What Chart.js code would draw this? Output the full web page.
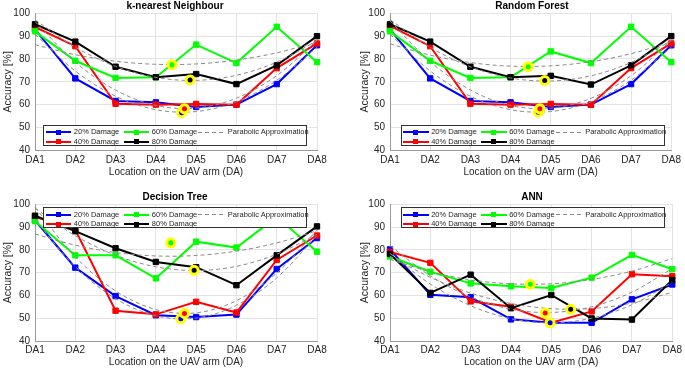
<!DOCTYPE html>
<html>
<head>
<meta charset="utf-8">
<script src="https://cdn.jsdelivr.net/npm/chart.js@4.4.1/dist/chart.umd.min.js"></script>
<style>
  html, body { margin: 0; padding: 0; background: #fff; }
  body { width: 685px; height: 372px; overflow: hidden; position: relative;
         font-family: "Liberation Sans", Arial, Helvetica, sans-serif; }
  .panel { position: absolute; }
  .title { position: absolute; font-weight: bold; font-size: 10px; color: #000;
           transform: translate(-50%, -50%); white-space: nowrap; line-height: 1; }
  .legend { position: absolute; border: 1px solid #333; background: #fff;
            box-sizing: border-box; width: 264px; height: 21px; }
  .lg-line { position: absolute; height: 2px; }
  .lg-mark { position: absolute; width: 5px; height: 5px; }
  .lg-dash { position: absolute; height: 1px;
             background: repeating-linear-gradient(to right, #8a8a8a 0 4px, transparent 4px 7px); }
  .lg-text { position: absolute; font-size: 7.5px; color: #262626; line-height: 1;
             transform: translateY(-50%); white-space: nowrap; }
</style>
</head>
<body>
<script>
// ---------------- data ----------------
const categories = ['DA1', 'DA2', 'DA3', 'DA4', 'DA5', 'DA6', 'DA7', 'DA8'];
const yTicks = [40, 50, 60, 70, 80, 90, 100];
const seriesLabels = ['20% Damage', '40% Damage', '60% Damage', '80% Damage'];
const fitLabel = 'Parabolic Approximation';
const seriesColors = ['#0000ff', '#ff0000', '#00ff00', '#000000'];

// k-nearest Neighbour
const knn20 = [93, 71.5, 61.6, 61, 59, 60, 69, 86];
const knn40 = [94, 85.6, 60.4, 60, 60.3, 60, 76, 86.8];
const knn60 = [92.1, 79.2, 71.7, 72, 86.3, 78.2, 94.1, 78.6];
const knn80 = [95.2, 87.6, 76.6, 72, 73.4, 69, 77.2, 90];
const knnMinX = [4.64, 4.71, 4.40, 4.85];
const knnMinY = [56.5, 58.2, 77.5, 70.8];

// Random Forest
const rf20 = [93, 71.5, 61.6, 61, 59, 60, 69, 86];
const rf40 = [94.5, 85.6, 60.4, 60, 60.3, 60, 76, 86.8];
const rf60 = [92.1, 79.2, 71.7, 72, 83.3, 78.2, 94.1, 78.6];
const rf80 = [95.2, 87.6, 76.6, 72, 72.6, 68.8, 77.2, 90];
const rfMinX = [4.69, 4.73, 4.44, 4.85];
const rfMinY = [56.7, 58.2, 76.6, 70.6];

// Decision Tree
const dt20 = [93, 72.2, 59.7, 51.3, 50.5, 51.6, 71.6, 85.2];
const dt40 = [94.5, 88.8, 53.3, 51.7, 57.2, 52.5, 75.6, 86.3];
const dt60 = [92.6, 77.6, 77.6, 67.5, 83.6, 81, 94.5, 79.2];
const dt80 = [95, 88.2, 80.7, 74.7, 72.4, 64.5, 77.6, 90.3];
const dtMinX = [4.62, 4.71, 4.37, 4.95];
const dtMinY = [49.8, 52.1, 83.1, 71.0];

// ANN
const ann20 = [80.2, 60.3, 59.2, 49.5, 48, 48, 58.3, 64.8];
const ann40 = [79.1, 74.3, 57.4, 55, 48, 53, 69.3, 68.4];
const ann60 = [77.1, 70.4, 65.3, 64, 63.3, 67.8, 77.8, 71.5];
const ann80 = [78.2, 61.1, 69.1, 54.4, 60.2, 49.9, 49.4, 66.8];
const annMinX = [4.97, 4.85, 4.48, 5.48];
const annMinY = [48.0, 52.3, 64.9, 53.9];

// ---------------- helpers ----------------
const FONT = '"Liberation Sans", Arial, Helvetica, sans-serif';
Chart.defaults.font.family = FONT;

// least-squares quadratic fit of one series over positions 1..N
function quadFit(ys) {
  const xs = ys.map((_, i) => i + 1);
  const n = xs.length;
  const m = xs.reduce((s, v) => s + v, 0) / n;
  let S2 = 0, S4 = 0, Sy = 0, Suy = 0, Su2y = 0;
  xs.forEach((x, i) => {
    const u = x - m;
    S2 += u * u; S4 += u * u * u * u;
    Sy += ys[i]; Suy += u * ys[i]; Su2y += u * u * ys[i];
  });
  const b = Suy / S2;
  const det = n * S4 - S2 * S2;
  const a = (Sy * S4 - S2 * Su2y) / det;
  const c = (n * Su2y - S2 * Sy) / det;
  return x => a + b * (x - m) + c * (x - m) * (x - m);
}

const panels = [
  { title: 'k-nearest Neighbour', series: [knn20, knn40, knn60, knn80], minX: knnMinX, minY: knnMinY,
    left: 0, top: 0, w: 342, h: 186, padTop: 13.3, padRight: 25, xHeight: 35.7, xTickPad: 4, xTitlePad: 7.3, yTitlePad: 1.8,
    titleX: 175, titleY: 6, legX: 43.3, legY: 124.7 },
  { title: 'Random Forest', series: [rf20, rf40, rf60, rf80], minX: rfMinX, minY: rfMinY,
    left: 355, top: 0, w: 330, h: 186, padTop: 13.3, padRight: 11, xHeight: 35.7, xTickPad: 4, xTitlePad: 7.3, yTitlePad: 4,
    titleX: 532, titleY: 6, legX: 400.7, legY: 124.7 },
  { title: 'Decision Tree', series: [dt20, dt40, dt60, dt80], minX: dtMinX, minY: dtMinY,
    left: 0, top: 186, w: 342, h: 186, padTop: 18.3, padRight: 25, xHeight: 31, xTickPad: 3, xTitlePad: 3.3, yTitlePad: 1.8,
    titleX: 175, titleY: 196.7, legX: 43.3, legY: 207 },
  { title: 'ANN', series: [ann20, ann40, ann60, ann80], minX: annMinX, minY: annMinY,
    left: 355, top: 186, w: 330, h: 186, padTop: 18.3, padRight: 10, xHeight: 31, xTickPad: 3, xTitlePad: 3.3, yTitlePad: 4,
    titleX: 532, titleY: 196.7, legX: 400.7, legY: 207 }
];

function el(cls, parent) {
  const d = document.createElement('div');
  d.className = cls;
  (parent || document.body).appendChild(d);
  return d;
}

function makeLegend(x, y) {
  const box = el('legend');
  box.style.left = x + 'px';
  box.style.top = y + 'px';
  const rows = [6.6, 16];           // row centres inside the border
  const lineX = [1.5, 79.5];        // sample line start per column
  const textX = [29.5, 107.5];
  const entries = [[0, 0, 0], [0, 1, 1], [1, 0, 2], [1, 1, 3]]; // col,row,series
  entries.forEach(([c, r, i]) => {
    const ln = el('lg-line', box);
    ln.style.left = lineX[c] + 'px'; ln.style.width = '25.5px';
    ln.style.top = (rows[r] - 1) + 'px'; ln.style.background = seriesColors[i];
    const mk = el('lg-mark', box);
    mk.style.left = (lineX[c] + 12.75 - 2.5) + 'px'; mk.style.top = (rows[r] - 2.5) + 'px';
    mk.style.background = seriesColors[i];
    const tx = el('lg-text', box);
    tx.style.left = textX[c] + 'px'; tx.style.top = rows[r] + 'px';
    tx.textContent = seriesLabels[i];
  });
  const ds = el('lg-dash', box);
  ds.style.left = '154px'; ds.style.width = '26.5px'; ds.style.top = (rows[0] - 0.5) + 'px';
  const tx = el('lg-text', box);
  tx.style.left = '183.5px'; tx.style.top = rows[0] + 'px';
  tx.textContent = fitLabel;
}

function makePanel(p) {
  const wrap = el('panel');
  wrap.style.left = p.left + 'px'; wrap.style.top = p.top + 'px';
  wrap.style.width = p.w + 'px'; wrap.style.height = p.h + 'px';
  const cv = document.createElement('canvas');
  cv.width = p.w; cv.height = p.h;
  cv.style.width = p.w + 'px'; cv.style.height = p.h + 'px';
  wrap.appendChild(cv);

  const datasets = [];
  // vertex markers (on top)
  datasets.push({
    data: p.minX.map((x, i) => ({ x, y: p.minY[i] })),
    showLine: false, pointStyle: 'circle', pointRadius: 4, pointBorderWidth: 3,
    pointBackgroundColor: seriesColors, pointBorderColor: '#ffff00',
    order: 0, clip: false
  });
  // parabolic approximations
  p.series.forEach(ys => {
    const f = quadFit(ys);
    datasets.push({
      data: categories.map((_, k) => ({ x: k + 1, y: f(k + 1) })),
      borderColor: '#8a8a8a', borderWidth: 1, borderDash: [4, 3],
      pointRadius: 0, tension: 0.33, fill: false, order: 1, clip: false
    });
  });
  // measured series (black on top, blue at bottom)
  p.series.forEach((ys, i) => {
    datasets.push({
      data: ys.map((y, k) => ({ x: k + 1, y })),
      borderColor: seriesColors[i], backgroundColor: seriesColors[i], borderWidth: 2,
      pointStyle: 'rect', pointRadius: 3.8, pointBorderWidth: 1,
      pointBackgroundColor: seriesColors[i], pointBorderColor: seriesColors[i],
      tension: 0, fill: false, order: 5 - i, clip: false
    });
  });

  new Chart(cv, {
    type: 'line',
    data: { datasets },
    options: {
      responsive: false, animation: false, devicePixelRatio: 1,
      layout: { padding: { left: 0, top: p.padTop, right: p.padRight, bottom: 0 } },
      plugins: { legend: { display: false }, tooltip: { enabled: false }, title: { display: false } },
      scales: {
        x: {
          type: 'linear', min: 1, max: categories.length,
          afterFit: s => { s.height = p.xHeight; },
          afterBuildTicks: s => { s.ticks = categories.map((_, i) => ({ value: i + 1 })); },
          ticks: { autoSkip: false, maxRotation: 0, padding: p.xTickPad, color: '#262626',
                   font: { size: 10 }, callback: v => categories[Math.round(v) - 1] },
          grid: { color: '#e3e3e3', drawTicks: false },
          border: { color: '#9a9a9a' },
          title: { display: true, text: 'Location on the UAV arm (DA)', color: '#262626',
                   font: { size: 10 }, padding: { top: 0, bottom: p.xTitlePad } }
        },
        y: {
          min: yTicks[0], max: yTicks[yTicks.length - 1],
          afterFit: s => { s.width = 35; },
          afterBuildTicks: s => { s.ticks = yTicks.map(v => ({ value: v })); },
          ticks: { padding: 5, color: '#262626', font: { size: 10 } },
          grid: { color: '#e3e3e3', drawTicks: false },
          border: { color: '#9a9a9a' },
          title: { display: true, text: 'Accuracy [%]', color: '#262626',
                   font: { size: 10.5 }, padding: { top: p.yTitlePad, bottom: 0 } }
        }
      }
    }
  });

  const t = el('title');
  t.style.left = p.titleX + 'px'; t.style.top = p.titleY + 'px';
  t.textContent = p.title;
  makeLegend(p.legX, p.legY);
}

panels.forEach(makePanel);
</script>
</body>
</html>
